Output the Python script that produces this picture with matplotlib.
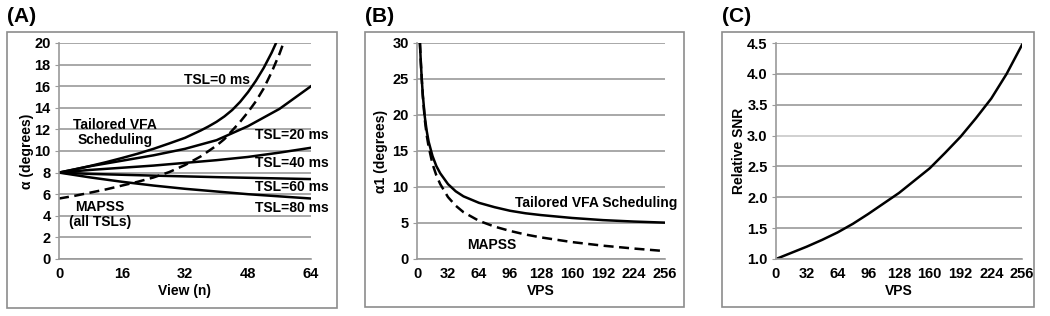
import numpy as np
import matplotlib.pyplot as plt
from matplotlib.patches import Rectangle

plt.rcParams['font.family'] = ['Liberation Sans', 'DejaVu Sans']
plt.rcParams['font.weight'] = 'bold'

# ---- Panel A: flip angle vs view number ----
view_tsl0 = [0, 4, 8, 12, 16, 20, 24, 28, 32, 36, 38, 40, 42, 44, 46, 48, 50, 52, 54, 55, 56]
alpha_tsl0 = [8.0, 8.3, 8.62, 8.97, 9.35, 9.75, 10.2, 10.7, 11.22, 11.9, 12.28, 12.7, 13.2,
              13.8, 14.55, 15.45, 16.5, 17.7, 19.1, 19.9, 20.8]

view_tsl = [0, 8, 16, 24, 32, 40, 48, 56, 64]
alpha_tsl20 = [8.0, 8.6, 9.1, 9.6, 10.2, 11.0, 12.3, 13.9, 16.0]
alpha_tsl40 = [8.0, 8.25, 8.45, 8.65, 8.9, 9.15, 9.45, 9.85, 10.3]
alpha_tsl60 = [8.0, 7.88, 7.8, 7.72, 7.65, 7.58, 7.52, 7.46, 7.4]
alpha_tsl80 = [8.0, 7.55, 7.15, 6.8, 6.5, 6.25, 6.0, 5.8, 5.6]

view_mapss = [0, 4, 8, 12, 16, 20, 24, 28, 32, 36, 38, 40, 42, 44, 46, 48, 50, 52, 54, 56, 57, 58]
alpha_mapss = [5.6, 5.85, 6.15, 6.45, 6.8, 7.15, 7.55, 8.05, 8.7, 9.5, 10.0, 10.5, 11.1,
               11.9, 12.7, 13.6, 14.6, 15.8, 17.3, 19.0, 20.0, 21.2]

# ---- Panel B: first flip angle vs views per segment ----
vps_b = [3, 4, 5, 6, 8, 10, 12, 16, 20, 24, 32, 40, 48, 64, 80, 96, 112, 128, 160, 192, 224, 256]
alpha1_tailored = [30, 27.2, 24.8, 22.8, 19.8, 17.8, 16.3, 14.3, 12.9, 11.9, 10.4, 9.4, 8.7,
                   7.8, 7.2, 6.7, 6.35, 6.1, 5.7, 5.4, 5.2, 5.05]
alpha1_mapss = [30, 27.2, 24.8, 22.6, 19.4, 17.2, 15.6, 13.2, 11.6, 10.4, 8.6, 7.4, 6.5,
                5.3, 4.5, 3.9, 3.4, 3.0, 2.35, 1.85, 1.45, 1.1]

# ---- Panel C: relative SNR vs VPS ----
vps_c = [0, 16, 32, 48, 64, 80, 96, 112, 128, 144, 160, 176, 192, 208, 224, 240, 256]
rel_snr = [1.0, 1.1, 1.2, 1.31, 1.43, 1.57, 1.73, 1.9, 2.07, 2.27, 2.47, 2.72, 2.98, 3.28, 3.6, 4.0, 4.47]

fig = plt.figure(figsize=(10.5, 3.16), dpi=100)

W, H = 1050, 316
def px_axes(l, t, r, b):
    return fig.add_axes([l / W, 1 - b / H, (r - l) / W, (b - t) / H])

axA = px_axes(59, 43, 311, 259)
axB = px_axes(417, 43, 665, 259)
axC = px_axes(776, 43, 1022, 259)

# outer frames and panel letters
for (l, t, r, b), letter in [((7, 32, 337, 308), '(A)'),
                             ((365, 32, 684, 307), '(B)'),
                             ((722, 32, 1034, 307), '(C)')]:
    fig.patches.append(Rectangle((l / W, 1 - b / H), (r - l) / W, (b - t) / H,
                                 transform=fig.transFigure, fill=False,
                                 edgecolor='#8c8c8c', linewidth=1.2))
    fig.text(l / W, 1 - 16 / H, letter, fontsize=15, fontweight='bold',
             ha='left', va='center')

grid_col = '#9a9a9a'
for ax in [axA, axB, axC]:
    ax.yaxis.grid(True, color=grid_col, linewidth=1.2)
    ax.set_axisbelow(True)
    for s in ['top', 'right']:
        ax.spines[s].set_visible(False)
    for s in ['left', 'bottom']:
        ax.spines[s].set_color(grid_col)
        ax.spines[s].set_linewidth(1.2)
    ax.tick_params(axis='y', length=3, color=grid_col, labelsize=10.5, pad=3)
    ax.tick_params(axis='x', length=0, labelsize=10.5, pad=6)

dash = (0, (4, 2.2))
txt = dict(fontsize=10, fontweight='bold', ha='center', va='center', clip_on=False)

# Panel A
axA.plot(view_tsl0, alpha_tsl0, color='black', lw=1.8)
for a in [alpha_tsl20, alpha_tsl40, alpha_tsl60, alpha_tsl80]:
    axA.plot(view_tsl, a, color='black', lw=1.8)
axA.plot(view_mapss, alpha_mapss, color='black', lw=1.8, linestyle=dash)
axA.set_xlim(0, 64)
axA.set_ylim(0, 20)
axA.set_xticks(np.arange(0, 65, 16))
axA.set_yticks(np.arange(0, 21, 2))
axA.set_xlabel('View (n)', fontsize=10, fontweight='bold', labelpad=2)
axA.set_ylabel('α (degrees)', fontsize=10, fontweight='bold', labelpad=0)
axA.text(40, 16.6, 'TSL=0 ms', **txt)
axA.text(59.2, 11.5, 'TSL=20 ms', **txt)
axA.text(59.2, 8.9, 'TSL=40 ms', **txt)
axA.text(59.2, 6.7, 'TSL=60 ms', **txt)
axA.text(59.2, 4.7, 'TSL=80 ms', **txt)
axA.text(14.2, 11.7, 'Tailored VFA\nScheduling', linespacing=1.1, **txt)
axA.text(10.4, 4.1, 'MAPSS\n(all TSLs)', linespacing=1.1, **txt)

# Panel B
axB.plot(vps_b, alpha1_tailored, color='black', lw=1.8)
axB.plot(vps_b, alpha1_mapss, color='black', lw=1.8, linestyle=dash)
axB.set_xlim(0, 256)
axB.set_ylim(0, 30)
axB.set_xticks(np.arange(0, 257, 32))
axB.set_yticks(np.arange(0, 31, 5))
axB.set_xlabel('VPS', fontsize=10, fontweight='bold', labelpad=2)
axB.set_ylabel('α1 (degrees)', fontsize=10, fontweight='bold', labelpad=3)
axB.text(185, 7.8, 'Tailored VFA Scheduling', **txt)
axB.text(77, 2.0, 'MAPSS', **txt)

# Panel C
axC.plot(vps_c, rel_snr, color='black', lw=1.8)
axC.set_xlim(0, 256)
axC.set_ylim(1.0, 4.5)
axC.set_xticks(np.arange(0, 257, 32))
c_ticks = np.arange(1.0, 4.51, 0.5)
axC.set_yticks(c_ticks)
axC.set_yticklabels([f'{v:.1f}' for v in c_ticks])
axC.set_xlabel('VPS', fontsize=10, fontweight='bold', labelpad=2)
axC.set_ylabel('Relative SNR', fontsize=10, fontweight='bold', labelpad=1)
# the 3.0 gridline is lighter in the original
for v, gl in zip(c_ticks, axC.yaxis.get_gridlines()):
    if abs(v - 3.0) < 1e-6:
        gl.set_color('#c8c8c8')

for ax in [axA, axB, axC]:
    for lab in ax.get_xticklabels() + ax.get_yticklabels():
        lab.set_fontweight('bold')

fig.savefig('out.png', dpi=100)
